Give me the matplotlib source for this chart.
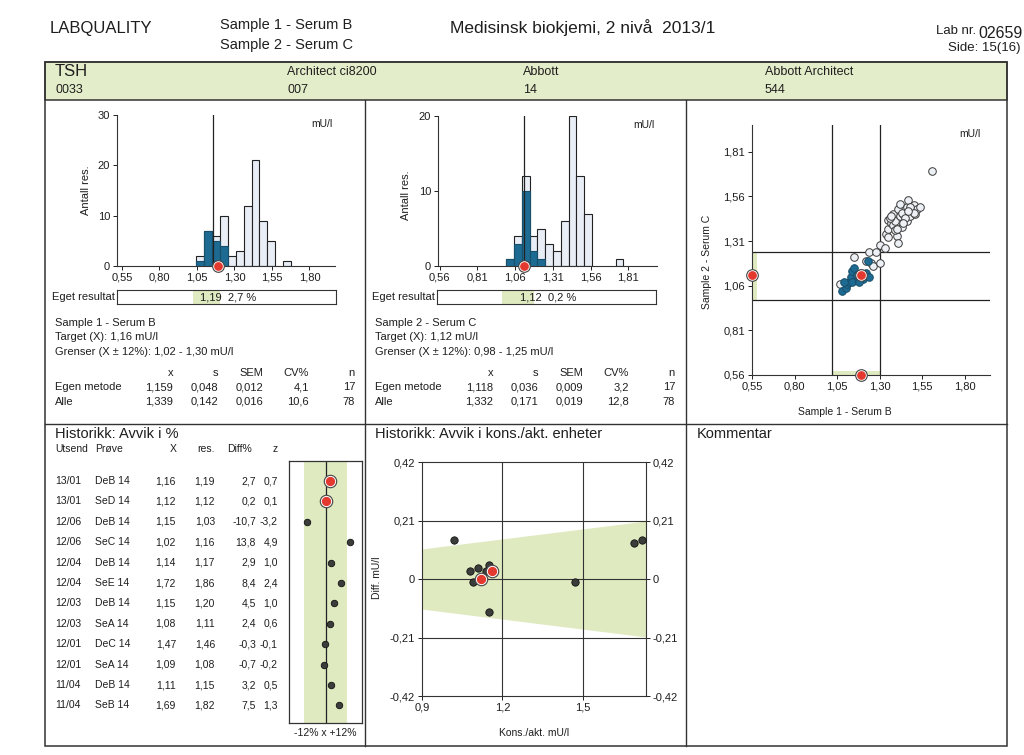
import numpy as np
import matplotlib
matplotlib.use('Agg')
import matplotlib.pyplot as plt
from matplotlib.patches import Rectangle

plt.rcParams['font.family'] = ['Liberation Sans', 'DejaVu Sans']

W, H = 1024, 755

# --- histogram sample 1 (Serum B) ---
h1_ticks = [0.55, 0.80, 1.05, 1.30, 1.55, 1.80]
h1_ticklabels = ['0,55', '0,80', '1,05', '1,30', '1,55', '1,80']
h1_bin_start = 1.045
h1_bin_width = 0.0527
h1_all = [2, 7, 6, 10, 2, 3, 12, 21, 9, 5, 0, 1]
h1_own = [1, 7, 5, 4, 0, 0, 0, 0, 0, 0, 0, 0]
h1_target = 1.16
h1_result = 1.19
h1_limits = (1.02, 1.30)
h1_green = (1.02, 1.20)

# --- histogram sample 2 (Serum C) ---
h2_ticks = [0.56, 0.81, 1.06, 1.31, 1.56, 1.81]
h2_ticklabels = ['0,56', '0,81', '1,06', '1,31', '1,56', '1,81']
h2_bin_start = 1.0
h2_bin_width = 0.0518
h2_all = [1, 4, 12, 4, 5, 3, 2, 6, 20, 12, 7, 0, 0, 0, 1]
h2_own = [1, 3, 10, 2, 1, 0, 0, 0, 0, 0, 0, 0, 0, 0, 0]
h2_target = 1.12
h2_result = 1.12
h2_limits = (0.98, 1.25)
h2_green = (0.98, 1.19)

# --- youden plot ---
own_x = [1.08, 1.10, 1.11, 1.12, 1.13, 1.14, 1.15, 1.16, 1.17, 1.19, 1.20, 1.22, 1.23, 1.24, 1.09, 1.14, 1.18]
own_y = [1.03, 1.05, 1.07, 1.08, 1.11, 1.14, 1.16, 1.09, 1.12, 1.13, 1.10, 1.13, 1.20, 1.11, 1.08, 1.08, 1.08]
oth_x = [1.07, 1.15, 1.22, 1.24, 1.25, 1.26, 1.28, 1.30, 1.30, 1.33, 1.34, 1.35, 1.35, 1.37, 1.38,
         1.38, 1.39, 1.40, 1.41, 1.41, 1.42, 1.42, 1.43, 1.44, 1.46, 1.46, 1.47, 1.48, 1.49, 1.50,
         1.51, 1.52, 1.54, 1.35, 1.36, 1.39, 1.43, 1.45, 1.48, 1.44, 1.40, 1.37, 1.50, 1.47, 1.61]
oth_y = [1.07, 1.22, 1.20, 1.25, 1.19, 1.17, 1.25, 1.29, 1.19, 1.27, 1.35, 1.38, 1.43, 1.41, 1.46,
         1.40, 1.42, 1.34, 1.49, 1.30, 1.45, 1.52, 1.39, 1.46, 1.42, 1.50, 1.54, 1.45, 1.48, 1.51,
         1.46, 1.49, 1.50, 1.33, 1.44, 1.37, 1.47, 1.44, 1.50, 1.41, 1.38, 1.45, 1.47, 1.48, 1.70]
yd_xticks = [0.55, 0.80, 1.05, 1.30, 1.55, 1.80]
yd_yticks = [0.56, 0.81, 1.06, 1.31, 1.56, 1.81]

# --- stats tables ---
stat_cols = ['x', 's', 'SEM', 'CV%', 'n']
s1_egen = ['1,159', '0,048', '0,012', '4,1', '17']
s1_alle = ['1,339', '0,142', '0,016', '10,6', '78']
s2_egen = ['1,118', '0,036', '0,009', '3,2', '17']
s2_alle = ['1,332', '0,171', '0,019', '12,8', '78']

# --- history ---
hist_utsend = ['13/01', '13/01', '12/06', '12/06', '12/04', '12/04', '12/03', '12/03', '12/01', '12/01', '11/04', '11/04']
hist_prove = ['DeB 14', 'SeD 14', 'DeB 14', 'SeC 14', 'DeB 14', 'SeE 14', 'DeB 14', 'SeA 14', 'DeC 14', 'SeA 14', 'DeB 14', 'SeB 14']
hist_X = [1.16, 1.12, 1.15, 1.02, 1.14, 1.72, 1.15, 1.08, 1.47, 1.09, 1.11, 1.69]
hist_res = [1.19, 1.12, 1.03, 1.16, 1.17, 1.86, 1.20, 1.11, 1.46, 1.08, 1.15, 1.82]
hist_diff = [2.7, 0.2, -10.7, 13.8, 2.9, 8.4, 4.5, 2.4, -0.3, -0.7, 3.2, 7.5]
hist_z = [0.7, 0.1, -3.2, 4.9, 1.0, 2.4, 1.0, 0.6, -0.1, -0.2, 0.5, 1.3]
n_current = 2
kons_xticks = [0.9, 1.2, 1.5]
kons_yticks = [-0.42, -0.21, 0, 0.21, 0.42]
kons_yticklabels = ['-0,42', '-0,21', '0', '0,21', '0,42']

DARK = '#1d6a92'
LIGHT = '#e8edf6'
GREEN = '#dfeac0'
BAND = '#e4edc9'
RED = '#e3392e'
INK = '#1e1e1e'

fig = plt.figure(figsize=(W / 100, H / 100), dpi=100)
bg = fig.add_axes([0, 0, 1, 1])
bg.set_xlim(0, W)
bg.set_ylim(H, 0)
bg.axis('off')
bg.set_zorder(10)  # frame lines and text on top of the plot panels


def px_axes(x0, y0, x1, y1):
    return fig.add_axes([x0 / W, 1 - y1 / H, (x1 - x0) / W, (y1 - y0) / H], facecolor='none')


def txt(x, y, s, size=8, ha='left', **kw):
    bg.text(x, y, s, fontsize=size, ha=ha, va='center', color=INK, **kw)


def fmt(v, d=2):
    return f"{v:.{d}f}".replace('.', ',')


def red_dot(ax, x, y, big=70, small=28):
    ax.scatter([x], [y], s=big, facecolor='white', edgecolor='#444', linewidth=0.8, zorder=5, clip_on=False)
    ax.scatter([x], [y], s=small, facecolor=RED, edgecolor=RED, zorder=6, clip_on=False)


def style_ticks(ax):
    ax.tick_params(labelsize=8, length=3, width=0.7, colors=INK, pad=2)
    for sp in ax.spines.values():
        sp.set_linewidth(0.8)
        sp.set_color('#333')


# header
txt(50, 28, 'LABQUALITY', 12)
txt(220, 25, 'Sample 1 - Serum B', 10.5)
txt(220, 45, 'Sample 2 - Serum C', 10.5)
txt(450, 28, 'Medisinsk biokjemi, 2 nivå  2013/1', 12.5)
txt(1023, 33, '02659', 11.5, ha='right')
txt(976, 31, 'Lab nr.', 9.5, ha='right')
txt(1021, 48, 'Side: 15(16)', 9.5, ha='right')

# frame and band
bg.add_patch(Rectangle((45, 62), 962, 38, facecolor=BAND, edgecolor='#333', lw=1.1, zorder=0))
bg.add_patch(Rectangle((45, 62), 962, 684, fill=False, edgecolor='#333', lw=1.1))
bg.plot([365, 365], [100, 746], color='#333', lw=1.0)
bg.plot([686, 686], [100, 746], color='#333', lw=1.0)
bg.plot([45, 1007], [424, 424], color='#333', lw=1.0)
txt(55, 72, 'TSH', 12)
txt(55, 90, '0033', 9)
txt(287, 72, 'Architect ci8200', 9)
txt(287, 90, '007', 9)
txt(523, 72, 'Abbott', 9)
txt(523, 90, '14', 9)
txt(765, 72, 'Abbott Architect', 9)
txt(765, 90, '544', 9)


def histogram(box, xlim, ymax, yticks, ticks, ticklabels, start, width, allc, own, target, result,
              box_px, green, res_text, res_x, ylab_xy):
    ax = px_axes(*box)
    edges = start + width * np.arange(len(allc))
    allc = np.array(allc)
    own = np.array(own)
    m = allc > 0
    ax.bar(edges[m], allc[m], width, align='edge', facecolor=LIGHT, edgecolor='#222', lw=0.8, zorder=2)
    m = own > 0
    ax.bar(edges[m], own[m], width, align='edge', facecolor=DARK, edgecolor='#184f6b', lw=0.8, zorder=3)
    ax.axvline(target, color='#222', lw=0.9, zorder=4)
    red_dot(ax, result, 0)
    ax.set_xlim(*xlim)
    ax.set_ylim(0, ymax)
    ax.set_xticks(ticks)
    ax.set_xticklabels(ticklabels)
    ax.set_yticks(yticks)
    ax.spines['top'].set_visible(False)
    ax.spines['right'].set_visible(False)
    style_ticks(ax)
    ax.text(0.94, 0.94, 'mU/l', transform=ax.transAxes, fontsize=7.5, ha='center', va='center', color=INK)
    bg.text(ylab_xy[0], ylab_xy[1], 'Antall res.', rotation=90, fontsize=8, ha='center', va='center', color=INK)

    bx = px_axes(*box_px)
    bx.set_xlim(*xlim)
    bx.set_ylim(0, 1)
    bx.axvspan(green[0], green[1], color=GREEN, lw=0)
    bx.set_xticks([])
    bx.set_yticks([])
    for sp in bx.spines.values():
        sp.set_linewidth(0.8)
        sp.set_color('#333')
    txt(box_px[0] - 2, (box_px[1] + box_px[3]) / 2, 'Eget resultat', 8, ha='right')
    txt(res_x, (box_px[1] + box_px[3]) / 2 + 0.5, res_text, 8)


histogram((117, 115, 335, 266), (0.517, 1.97), 30, [0, 10, 20, 30], h1_ticks, h1_ticklabels,
          h1_bin_start, h1_bin_width, h1_all, h1_own, h1_target, h1_result,
          (117, 290, 336, 304), h1_green, '1,19  2,7 %', 200, (86, 190))
histogram((438, 116, 657, 266), (0.549, 2.0), 20, [0, 10, 20], h2_ticks, h2_ticklabels,
          h2_bin_start, h2_bin_width, h2_all, h2_own, h2_target, h2_result,
          (437, 290, 656, 304), h2_green, '1,12  0,2 %', 520, (406, 195))

# stats text blocks
col_right = [173, 218, 263, 309, 355]
blocks = [(0, 'Sample 1 - Serum B', '1,16', '1,02 - 1,30', s1_egen, s1_alle),
          (320, 'Sample 2 - Serum C', '1,12', '0,98 - 1,25', s2_egen, s2_alle)]
for dx, name, target, lims, egen, alle in blocks:
    txt(55 + dx, 323, name, 8)
    txt(55 + dx, 337, f'Target (X): {target} mU/l', 8)
    txt(55 + dx, 352, f'Grenser (X ± 12%): {lims} mU/l', 8)
    txt(55 + dx, 387, 'Egen metode', 8)
    txt(55 + dx, 402, 'Alle', 8)
    for cx, c, e, a in zip(col_right, stat_cols, egen, alle):
        txt(cx + dx, 373, c, 8, ha='right')
        txt(cx + dx, 387, e, 8, ha='right')
        txt(cx + dx, 402, a, 8, ha='right')

# youden plot
ax = px_axes(752, 125, 990, 375)
ax.add_patch(Rectangle((0.55, h2_limits[0]), 0.028, h2_limits[1] - h2_limits[0], color=GREEN, lw=0, zorder=1))
ax.add_patch(Rectangle((h1_limits[0], 0.56), h1_limits[1] - h1_limits[0], 0.02, color=GREEN, lw=0, zorder=1))
for v in h1_limits:
    ax.axvline(v, color='#222', lw=0.9, zorder=2)
for v in h2_limits:
    ax.axhline(v, color='#222', lw=0.9, zorder=2)
ax.scatter(oth_x, oth_y, s=30, facecolor='#edf0f5', edgecolor='#3a3a3a', linewidth=0.7, zorder=3)
ax.scatter(own_x, own_y, s=30, facecolor=DARK, edgecolor='#184f6b', linewidth=0.7, zorder=4)
red_dot(ax, h1_result, h2_result)
red_dot(ax, 0.55, h2_result)
red_dot(ax, h1_result, 0.56)
ax.set_xlim(0.55, 1.95)
ax.set_ylim(0.56, 1.96)
ax.set_xticks(yd_xticks)
ax.set_xticklabels(h1_ticklabels)
ax.set_yticks(yd_yticks)
ax.set_yticklabels(h2_ticklabels)
ax.spines['top'].set_visible(False)
ax.spines['right'].set_visible(False)
style_ticks(ax)
txt(970, 134, 'mU/l', 7.5, ha='center')
txt(845, 412, 'Sample 1 - Serum B', 7.5, ha='center')
bg.text(707, 262, 'Sample 2 - Serum C', rotation=90, fontsize=7.5, ha='center', va='center', color=INK)

# history: deviation in %
txt(55, 434, 'Historikk: Avvik i %', 10.5)
row_y0 = 481
row_dy = 20.4
hx = [55, 95, 176, 215, 256, 278]
for lab, x, ha in zip(['Utsend', 'Prøve', 'X', 'res.', 'Diff%', 'z'], [55, 95, 177, 215, 252, 278],
                      ['left', 'left', 'right', 'right', 'right', 'right']):
    txt(x, 449, lab, 7.5, ha=ha)
for i in range(len(hist_X)):
    y = row_y0 + i * row_dy
    txt(hx[0], y, hist_utsend[i], 7.5)
    txt(hx[1], y, hist_prove[i], 7.5)
    txt(hx[2], y, fmt(hist_X[i]), 7.5, ha='right')
    txt(hx[3], y, fmt(hist_res[i]), 7.5, ha='right')
    txt(hx[4], y, fmt(hist_diff[i], 1), 7.5, ha='right')
    txt(hx[5], y, fmt(hist_z[i], 1), 7.5, ha='right')

sx = px_axes(289, 461, 362, 723)
sx.axvspan(-12, 12, color=GREEN, lw=0)
sx.axvline(0, color='#222', lw=0.9)
rows = np.arange(len(hist_diff))
sx.scatter(hist_diff[n_current:], rows[n_current:], s=22, facecolor='#3b3d3b', edgecolor='#111', lw=0.6, zorder=3)
for i in range(n_current):
    red_dot(sx, hist_diff[i], rows[i], big=80, small=32)
sx.set_xlim(-20.6, 20.4)
sx.set_ylim((723 - row_y0) / row_dy, (461 - row_y0) / row_dy)
sx.set_xticks([])
sx.set_yticks([])
for sp in sx.spines.values():
    sp.set_linewidth(0.9)
    sp.set_color('#333')
txt(325.5, 733, '-12% x +12%', 7.5, ha='center')

# history: deviation in units
txt(375, 434, 'Historikk: Avvik i kons./akt. enheter', 10.5)
kx = px_axes(422, 462, 646, 696)
xs = np.linspace(0.9, 1.735, 20)
kx.fill_between(xs, -0.12 * xs, 0.12 * xs, color=GREEN, lw=0, zorder=1)
for v in kons_xticks[1:]:
    kx.axvline(v, color='#333', lw=0.8, zorder=2)
for v in [-0.21, 0, 0.21]:
    kx.axhline(v, color='#333', lw=0.8, zorder=2)
diff_u = np.array(hist_res) - np.array(hist_X)
kx.scatter(hist_X[n_current:], diff_u[n_current:], s=28, facecolor='#3b3d3b', edgecolor='#111', lw=0.6, zorder=3)
for i in range(n_current):
    red_dot(kx, hist_X[i], diff_u[i], big=80, small=32)
kx.set_xlim(0.9, 1.735)
kx.set_ylim(-0.42, 0.42)
kx.set_xticks(kons_xticks)
kx.set_xticklabels([fmt(v, 1) for v in kons_xticks])
kx.set_yticks(kons_yticks)
kx.set_yticklabels(kons_yticklabels)
kx.tick_params(right=True, labelright=True)
style_ticks(kx)
bg.text(377, 578, 'Diff. mU/l', rotation=90, fontsize=7.5, ha='center', va='center', color=INK)
txt(534, 733, 'Kons./akt. mU/l', 7.5, ha='center')

txt(697, 434, 'Kommentar', 10.5)

fig.savefig('out.png', dpi=100)
